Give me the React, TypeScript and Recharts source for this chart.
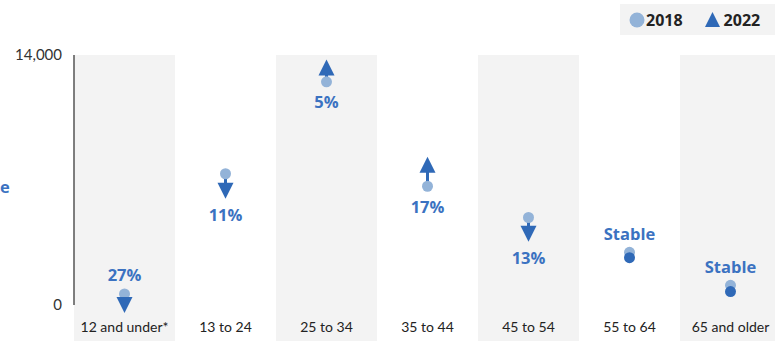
import { Bar, ComposedChart, LabelList, Scatter, XAxis, YAxis } from "recharts";

const categories = ["12 and under*", "13 to 24", "25 to 34", "35 to 44", "45 to 54", "55 to 64", "65 and older"];
const values2018 = [620, 7350, 12500, 6650, 4900, 2950, 1100];
const values2022 = [60, 6450, 13250, 7800, 4050, 2650, 750];
const changeLabels = ["27%", "11%", "5%", "17%", "13%", "Stable", "Stable"];
const yTicks = [0, 14000];

const LIGHT = "#93b3d8";
const DARK = "#2f69b7";
const LABEL_BLUE = "#3b72c1";
const BAND = "#f3f3f3";
const FONT = "Lato, 'Open Sans', sans-serif";
const BOLD_FONT = "'Open Sans', Lato, sans-serif";

const data = categories.map((cat, i) => ({
  cat,
  band: yTicks[yTicks.length - 1],
  y2018: values2018[i],
  y2022: values2022[i],
  label: changeLabels[i],
}));

function BandShape(props: any) {
  const { x, y, width, height, index } = props;
  if (index % 2 !== 0) return <g />;
  return <rect x={x} y={y} width={width} height={height + 36} fill={BAND} />;
}

function Marker2022(props: any) {
  const { cx, cy, payload } = props;
  if (payload.label === "Stable") return <circle cx={cx} cy={cy} r={5.5} fill={DARK} />;
  const up = payload.y2022 > payload.y2018;
  const pts = up
    ? `${cx - 8},${cy + 7} ${cx + 8},${cy + 7} ${cx},${cy - 9}`
    : `${cx - 8},${cy - 7} ${cx + 8},${cy - 7} ${cx},${cy + 9}`;
  return <polygon points={pts} fill={DARK} />;
}

function Marker2018(props: any) {
  const { cx, cy } = props;
  return <circle cx={cx} cy={cy} r={5.5} fill={LIGHT} />;
}

function ChangeLabel(props: any) {
  const { index } = props;
  const vb = props.viewBox ?? props;
  const d = data[index];
  const top = Math.min(vb.y, vb.y + vb.height);
  const bottom = Math.max(vb.y, vb.y + vb.height);
  const cx = vb.x + vb.width / 2;
  const lo = Math.min(d.y2018, d.y2022);
  const above = d.label === "Stable" || lo < 1500;
  const ty = above ? top - 19 : bottom + (d.y2022 < d.y2018 ? 25 : 20);
  return (
    <text x={cx} y={ty} textAnchor="middle" dominantBaseline="central"
      fill={LABEL_BLUE} fontSize={16.5} fontWeight={700} fontFamily={BOLD_FONT}>
      {d.label}
    </text>
  );
}

export default function App() {
  return (
    <div style={{ position: "fixed", left: 0, top: 0, width: 775, height: 341, overflow: "hidden", background: "#fff" }}>
      <ComposedChart width={790} height={341} data={data} barCategoryGap={0}
        margin={{ top: 55, right: 9, left: 0, bottom: 0 }} style={{ fontFamily: FONT }}>
        <Bar dataKey="band" shape={<BandShape />} isAnimationActive={false} />
        <XAxis dataKey="cat" tickLine={false} axisLine={false} interval={0} height={36} tickMargin={11}
          tick={{ fontSize: 14, fill: "#222", fontFamily: FONT }} />
        <XAxis dataKey="cat" xAxisId="stem" hide />
        <YAxis domain={[0, 14000]} ticks={yTicks} width={74} tickLine={false} tickMargin={6}
          axisLine={{ stroke: "#555", strokeWidth: 1.5 }}
          tick={{ fontSize: 15, fill: "#333", fontFamily: FONT }}
          tickFormatter={(v: number) => v.toLocaleString("en-US")} />
        <Bar xAxisId="stem" dataKey={(d: any) => [Math.min(d.y2018, d.y2022), Math.max(d.y2018, d.y2022)]}
          barSize={3} fill={DARK} isAnimationActive={false}>
          <LabelList dataKey="label" content={<ChangeLabel />} />
        </Bar>
        <Scatter dataKey="y2018" shape={<Marker2018 />} isAnimationActive={false} />
        <Scatter dataKey="y2022" shape={<Marker2022 />} isAnimationActive={false} />
      </ComposedChart>

      <div style={{ position: "absolute", left: 0, top: 175, color: LABEL_BLUE, fontFamily: BOLD_FONT,
        fontWeight: 700, fontSize: 16.5 }}>
        e
      </div>

      <div style={{ position: "absolute", left: 620, top: 4, width: 170, height: 31, background: BAND,
        display: "flex", alignItems: "center", fontFamily: BOLD_FONT, fontWeight: 700, fontSize: 16, color: "#222" }}>
        <svg width={26} height={31} style={{ flex: "none" }}>
          <circle cx={17} cy={16} r={7.5} fill={LIGHT} />
        </svg>
        <span>2018</span>
        <svg width={41} height={31} style={{ flex: "none" }}>
          <polygon points="22,8 37,8 29.5,23" transform="rotate(180 29.5 15.5)" fill={DARK} />
        </svg>
        <span>2022</span>
      </div>
    </div>
  );
}
